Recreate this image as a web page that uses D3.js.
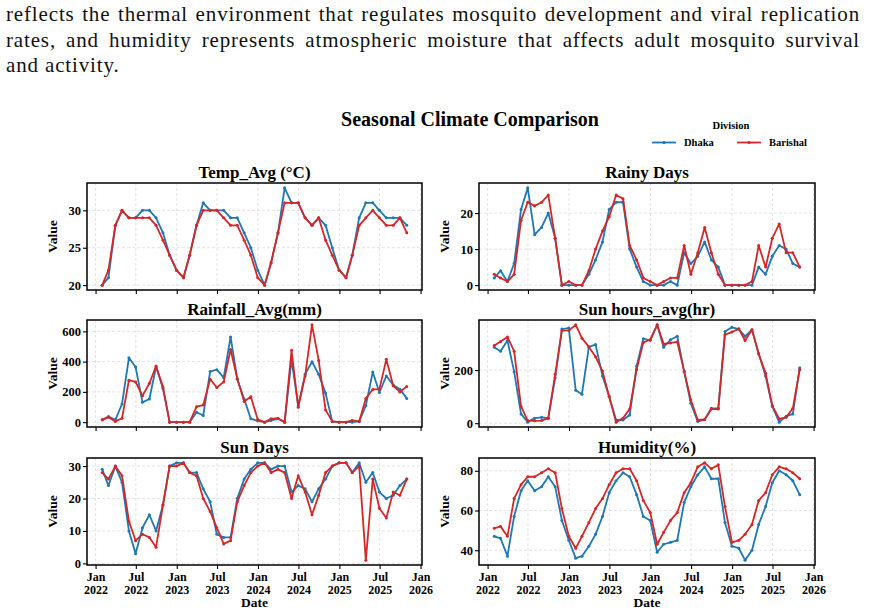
<!DOCTYPE html>
<html>
<head>
<meta charset="utf-8">
<script src="https://cdn.jsdelivr.net/npm/d3@7"></script>
<style>
  body { margin: 0; background: #fff; position: relative; width: 869px; height: 616px; overflow: hidden; }
  svg { display: block; position: absolute; left: 0; top: 0; }
  #intro { position: absolute; left: 6px; top: 2px; width: 854px; z-index: 2;
           font-family: "Liberation Serif", "DejaVu Serif", serif; font-size: 21px;
           letter-spacing: 0.85px; color: #111; }
  #intro div { height: 25.5px; line-height: 25.5px; white-space: nowrap; }
  #intro div.full { text-align: justify; text-align-last: justify; white-space: normal; }
</style>
</head>
<body>
<div id="intro"></div>
<div id="chart"></div>
<script>
// Monthly records, Jan 2022 .. Oct 2025 (plotted at month end)
const months = [
  "2022-01","2022-02","2022-03","2022-04","2022-05","2022-06","2022-07","2022-08","2022-09","2022-10","2022-11","2022-12",
  "2023-01","2023-02","2023-03","2023-04","2023-05","2023-06","2023-07","2023-08","2023-09","2023-10","2023-11","2023-12",
  "2024-01","2024-02","2024-03","2024-04","2024-05","2024-06","2024-07","2024-08","2024-09","2024-10","2024-11","2024-12",
  "2025-01","2025-02","2025-03","2025-04","2025-05","2025-06","2025-07","2025-08","2025-09","2025-10"
];

const tempDhaka    = [20,21,28,30,29,29,30,30,29,27,24,22,21,24,28,31,30,30,30,29,29,27,25,22,20,23,27,33,31,31,29,28,29,28,25,22,21,24,29,31,31,30,29,29,29,28];
const tempBarishal = [20,22,28,30,29,29,29,29,28,26,24,22,21,24,28,30,30,30,29,28,28,26,24,21,20,23,27,31,31,31,29,28,29,26,24,22,21,24,28,29,30,29,28,28,29,27];

const rainyDhaka    = [2,4,1,6,21,27,14,16,20,13,0,0,0,0,3,7,12,21,23,23,10,5,1,0,0,0,1,0,9,6,8,12,7,5,0,0,0,0,0,5,3,8,11,10,6,5];
const rainyBarishal = [3,2,1,3,18,23,22,23,25,13,0,1,0,0,4,10,15,19,25,24,11,7,2,1,0,1,2,2,11,3,9,16,9,3,0,0,0,0,1,11,5,13,17,9,9,5];

const rainfallDhaka    = [15,37,15,120,425,364,131,153,366,222,0,0,0,0,65,44,334,347,294,563,284,153,22,9,0,11,22,0,414,109,316,399,316,192,5,0,0,0,5,109,331,196,305,246,218,157];
const rainfallBarishal = [15,33,5,26,277,266,174,257,371,233,0,0,0,0,102,113,284,229,266,480,288,137,168,17,0,22,26,0,475,98,305,643,408,81,5,0,0,11,5,157,216,218,415,240,200,236];

const sunHoursDhaka    = [286,271,311,194,35,4,19,22,19,171,354,358,124,109,287,296,178,100,12,12,31,215,318,312,370,286,314,327,194,75,6,14,56,56,345,361,354,327,352,261,178,63,4,26,35,209];
const sunHoursBarishal = [292,307,324,271,63,10,9,10,19,184,348,349,370,320,287,250,196,100,4,19,53,202,304,314,370,298,302,306,196,87,12,14,53,53,333,343,355,311,352,261,188,66,16,22,56,202];

const sunDaysDhaka    = [29,24,30,25,10,3,11,15,10,18,30,31,31,28,28,23,19,9,8,8,20,26,29,31,31,29,30,30,22,24,23,19,23,26,30,31,31,28,31,25,28,22,20,21,24,26];
const sunDaysBarishal = [28,26,30,27,13,7,9,8,5,18,30,30,31,28,27,20,16,11,6,7,19,24,28,30,31,28,29,28,20,27,22,15,21,28,30,31,31,28,30,1,26,17,14,22,21,26];

const humidityDhaka    = [47,46,37,57,70,75,70,72,77,72,55,45,36,37,42,48,57,69,75,79,77,68,57,55,39,43,44,45,64,72,78,82,76,76,54,42,41,35,40,53,62,74,80,78,75,68];
const humidityBarishal = [51,52,47,66,73,77,77,79,81,79,61,47,41,47,54,61,66,73,79,81,81,75,65,59,43,49,55,59,69,74,82,84,81,83,62,44,45,48,53,65,69,78,82,81,79,76];

const panelTitles = ["Temp_Avg (°C)", "Rainy Days", "Rainfall_Avg(mm)", "Sun hours_avg(hr)", "Sun Days", "Humidity(%)"];
const yTicks = [[20,25,30],[0,10,20],[0,200,400,600],[0,200],[0,10,20,30],[40,60,80]];
const xTickLabels = ["2022-01","2022-07","2023-01","2023-07","2024-01","2024-07","2025-01","2025-07","2026-01"];
const divisions = ["Dhaka", "Barishal"];
const colors = ["#1f77b4", "#d62728"];

const introLines = [
  "reflects the thermal environment that regulates mosquito development and viral replication",
  "rates, and humidity represents atmospheric moisture that affects adult mosquito survival",
  "and activity."
];

const panels = [
  [tempDhaka, tempBarishal],
  [rainyDhaka, rainyBarishal],
  [rainfallDhaka, rainfallBarishal],
  [sunHoursDhaka, sunHoursBarishal],
  [sunDaysDhaka, sunDaysBarishal],
  [humidityDhaka, humidityBarishal]
];

// paragraph text above the figure (justified like the source page)
d3.select("#intro").selectAll("div")
  .data(introLines)
  .join("div")
  .attr("class", (d, i) => i < introLines.length - 1 ? "full" : null)
  .text(d => d);

// layout
const W = 869, H = 616;
const colX = [[87, 422], [479, 815]];
const rowY = [183, 320, 458];
const panelH = 107;
const font = "'Liberation Serif', 'Times New Roman', serif";

const svg = d3.select("#chart").append("svg")
  .attr("width", W).attr("height", H)
  .style("font-family", font);

// figure title
svg.append("text")
  .attr("x", 470).attr("y", 126)
  .attr("text-anchor", "middle")
  .style("font-size", "20px").style("font-weight", "bold")
  .text("Seasonal Climate Comparison");

// legend
svg.append("text")
  .attr("x", 731).attr("y", 129)
  .attr("text-anchor", "middle")
  .style("font-size", "10.5px").style("font-weight", "bold")
  .text("Division");
const legendX = [652, 737];
divisions.forEach((name, i) => {
  const g = svg.append("g").attr("transform", `translate(${legendX[i]},142.5)`);
  g.append("line").attr("x1", 0).attr("x2", 24).attr("stroke", colors[i]).attr("stroke-width", 1.8);
  g.append("circle").attr("cx", 12).attr("r", 1.6).attr("fill", colors[i]);
  g.append("text").attr("x", 32).attr("y", 3.5)
    .style("font-size", "10.5px").style("font-weight", "bold")
    .text(name);
});

const parseMonth = d3.timeParse("%Y-%m");
const dates = months.map(m => d3.timeDay.offset(d3.timeMonth.offset(parseMonth(m), 1), -1));
const tickDates = xTickLabels.map(parseMonth);
const t0 = +dates[0], t1 = +dates[dates.length - 1], tPad = (t1 - t0) * 0.05;

panels.forEach((series, p) => {
  const col = p % 2, row = Math.floor(p / 2);
  const [x0, x1] = colX[col];
  const y0 = rowY[row], y1 = y0 + panelH;

  const x = d3.scaleTime()
    .domain([new Date(t0 - tPad), new Date(t1 + tPad)])
    .range([x0, x1]);

  const allVals = series.flat();
  const lo = d3.min(allVals), hi = d3.max(allVals), pad = (hi - lo) * 0.05;
  const y = d3.scaleLinear().domain([lo - pad, hi + pad]).range([y1, y0]);

  const g = svg.append("g");

  // grid
  g.selectAll("line.gx").data(tickDates).join("line")
    .attr("x1", d => x(d)).attr("x2", d => x(d))
    .attr("y1", y0).attr("y2", y1)
    .attr("stroke", "#d9d9d9").attr("stroke-width", 0.7).attr("stroke-dasharray", "3,2");
  g.selectAll("line.gy").data(yTicks[p]).join("line")
    .attr("x1", x0).attr("x2", x1)
    .attr("y1", d => y(d)).attr("y2", d => y(d))
    .attr("stroke", "#d9d9d9").attr("stroke-width", 0.7).attr("stroke-dasharray", "3,2");

  // axes
  const yAxis = g.append("g")
    .attr("transform", `translate(${x0},0)`)
    .call(d3.axisLeft(y).tickValues(yTicks[p]).tickSize(4).tickPadding(2));
  yAxis.select(".domain").remove();
  yAxis.selectAll("text")
    .style("font-family", font).style("font-size", "12.5px").style("font-weight", "bold").attr("fill", "#000");
  yAxis.selectAll("line").attr("stroke-width", 1.1);

  const xAxis = g.append("g")
    .attr("transform", `translate(0,${y1})`)
    .call(d3.axisBottom(x).tickValues(tickDates).tickSize(4).tickFormat(""));
  xAxis.select(".domain").remove();
  xAxis.selectAll("line").attr("stroke-width", 1.1);

  if (row === 2) {
    xAxis.selectAll(".tick").each(function (d) {
      const t = d3.select(this);
      [["%b", 15.5], ["%Y", 28.5]].forEach(([fmt, dy]) => {
        t.append("text")
          .attr("fill", "#000").attr("text-anchor", "middle")
          .attr("x", 0).attr("y", dy)
          .style("font-family", font).style("font-size", "12px").style("font-weight", "bold")
          .text(d3.timeFormat(fmt)(d));
      });
    });
    g.append("text")
      .attr("x", (x0 + x1) / 2).attr("y", 607)
      .attr("text-anchor", "middle")
      .style("font-size", "13.5px").style("font-weight", "bold")
      .text("Date");
  }

  // lines + markers
  const line = d3.line().x((d, i) => x(dates[i])).y(d => y(d));
  series.forEach((vals, s) => {
    g.append("path")
      .datum(vals)
      .attr("d", line)
      .attr("fill", "none")
      .attr("stroke", colors[s])
      .attr("stroke-width", 1.8)
      .attr("stroke-linejoin", "round");
    g.selectAll(null).data(vals).join("circle")
      .attr("cx", (d, i) => x(dates[i]))
      .attr("cy", d => y(d))
      .attr("r", 1.5)
      .attr("fill", colors[s]);
  });

  // frame
  g.append("rect")
    .attr("x", x0).attr("y", y0)
    .attr("width", x1 - x0).attr("height", panelH)
    .attr("fill", "none").attr("stroke", "#000").attr("stroke-width", 1.5);

  // title
  g.append("text")
    .attr("x", (x0 + x1) / 2).attr("y", y0 - 5)
    .attr("text-anchor", "middle")
    .style("font-size", "17px").style("font-weight", "bold")
    .text(panelTitles[p]);

  // y label
  g.append("text")
    .attr("transform", `translate(${x0 - 30},${(y0 + y1) / 2}) rotate(-90)`)
    .attr("text-anchor", "middle")
    .style("font-size", "13.5px").style("font-weight", "bold")
    .text("Value");
});
</script>
</body>
</html>
